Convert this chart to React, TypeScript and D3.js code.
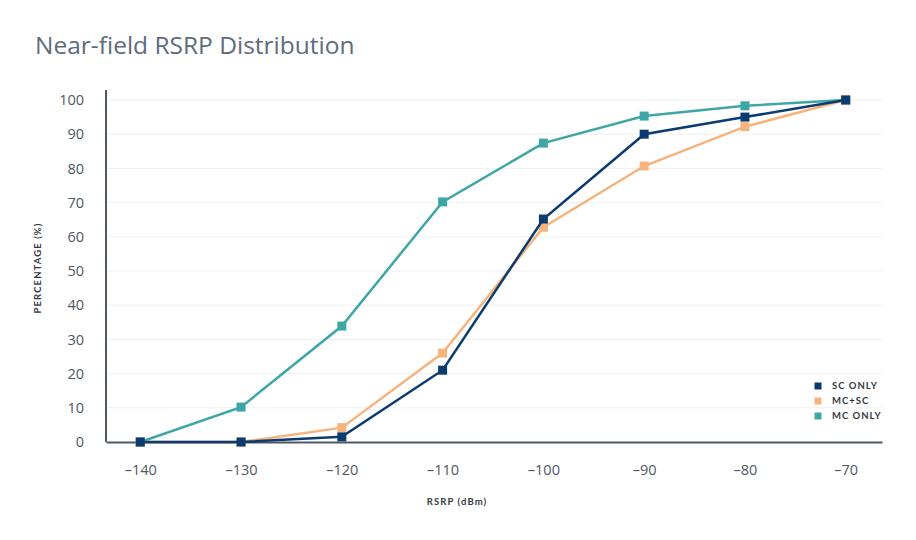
import React, { FC, useEffect, useRef } from "react"
import { axisBottom, axisLeft, line, scaleLinear, select } from "d3"

const rsrp = [-140, -130, -120, -110, -100, -90, -80, -70]
const yTicks = [0, 10, 20, 30, 40, 50, 60, 70, 80, 90, 100]
const seriesNames = ["SC ONLY", "MC+SC", "MC ONLY"]
const scOnly = [0, 0, 1.5, 21, 65.2, 90, 95, 100]
const mcSc = [0, 0, 4.2, 26, 62.8, 80.7, 92.2, 100]
const mcOnly = [0, 10.2, 33.9, 70.2, 87.4, 95.3, 98.3, 100]

const colors = ["#0b3b6f", "#f6b37c", "#3ea7a6"]

const App: FC = () => {
  const ref = useRef<HTMLDivElement>(null)

  useEffect(() => {
    const element = ref.current
    if (!element) return
    select(element).selectAll("*").remove()

    const width = 916
    const height = 540
    const margin = { top: 100, right: 34, bottom: 98, left: 106 }
    const boundedWidth = width - margin.left - margin.right
    const boundedHeight = height - margin.top - margin.bottom

    const svg = select(element)
      .append("svg")
      .attr("width", width)
      .attr("height", height)
      .style("display", "block")
      .style("font-family", "Lato, 'Open Sans', sans-serif")

    svg
      .append("rect")
      .attr("width", width)
      .attr("height", height)
      .attr("fill", "#ffffff")

    svg
      .append("text")
      .text("Near-field RSRP Distribution")
      .attr("x", 35)
      .attr("y", 54)
      .attr("fill", "#5d6b7b")
      .attr("font-size", 24.5)
      .attr("font-family", "'Open Sans', sans-serif")

    const bounds = svg
      .append("g")
      .attr("transform", `translate(${margin.left},${margin.top})`)

    const xScale = scaleLinear().domain([-143.4, -66.4]).range([0, boundedWidth])
    const yScale = scaleLinear().domain([0, 100]).range([boundedHeight, 0])

    // grid
    bounds
      .selectAll(".grid")
      .data(yTicks.filter((t) => t > 0))
      .join("line")
      .attr("x1", 0)
      .attr("x2", boundedWidth)
      .attr("y1", (d) => yScale(d))
      .attr("y2", (d) => yScale(d))
      .attr("stroke", "#eef0f3")
      .attr("stroke-width", 1)

    // axes
    const xAxis = bounds
      .append("g")
      .attr("transform", `translate(0,${boundedHeight})`)
      .call(axisBottom(xScale).tickValues(rsrp).tickSize(0).tickPadding(23).tickFormat((d) => `${d}`.replace("-", "–")))
    xAxis.select(".domain").attr("stroke", "#4f5864").attr("stroke-width", 2)
    xAxis
      .selectAll("text")
      .attr("fill", "#4f5864")
      .attr("font-size", 14.5)
      .attr("font-family", "'Open Sans', sans-serif")

    const yAxis = bounds
      .append("g")
      .call(axisLeft(yScale).tickValues(yTicks).tickSize(0).tickPadding(22))
    yAxis
      .select(".domain")
      .attr("d", `M0,${boundedHeight}V-10`)
      .attr("stroke", "#4f5864")
      .attr("stroke-width", 2)
    yAxis
      .selectAll("text")
      .attr("fill", "#4f5864")
      .attr("font-size", 14.5)
      .attr("font-family", "'Open Sans', sans-serif")

    // axis titles
    svg
      .append("text")
      .text("RSRP (dBm)")
      .attr("x", 457)
      .attr("y", 505)
      .attr("text-anchor", "middle")
      .attr("fill", "#333a44")
      .attr("font-size", 9.5)
      .attr("font-weight", 700)
      .attr("letter-spacing", 1.1)

    svg
      .append("text")
      .text("PERCENTAGE (%)")
      .attr("transform", `translate(41,268) rotate(-90)`)
      .attr("text-anchor", "middle")
      .attr("fill", "#333a44")
      .attr("font-size", 9.5)
      .attr("font-weight", 700)
      .attr("letter-spacing", 1.1)

    // lines
    const lineGen = line<number>()
      .x((_, i) => xScale(rsrp[i]))
      .y((d) => yScale(d))

    const all = [scOnly, mcSc, mcOnly]
    const drawOrder = [2, 1, 0]
    drawOrder.forEach((s) => {
      const values = all[s]
      const g = bounds.append("g")
      g.append("path")
        .datum(values)
        .attr("d", lineGen)
        .attr("fill", "none")
        .attr("stroke", colors[s])
        .attr("stroke-width", 2.5)
      g.selectAll("rect")
        .data(values)
        .join("rect")
        .attr("x", (_, i) => xScale(rsrp[i]) - 4.5)
        .attr("y", (d) => yScale(d) - 4.5)
        .attr("width", 9)
        .attr("height", 9)
        .attr("fill", colors[s])
    })

    // legend
    const legend = svg.append("g").attr("transform", "translate(818,386)")
    seriesNames.forEach((name, i) => {
      legend
        .append("rect")
        .attr("x", -3.5)
        .attr("y", i * 15 - 3.5)
        .attr("width", 7)
        .attr("height", 7)
        .attr("fill", colors[i])
      legend
        .append("text")
        .text(name)
        .attr("x", 14)
        .attr("y", i * 15)
        .attr("dy", "0.35em")
        .attr("fill", "#333a44")
        .attr("font-size", 9.5)
        .attr("font-weight", 700)
        .attr("letter-spacing", 1)
    })
  }, [])

  return <div ref={ref} style={{ position: "absolute", left: 0, top: 0 }} />
}

export default App
